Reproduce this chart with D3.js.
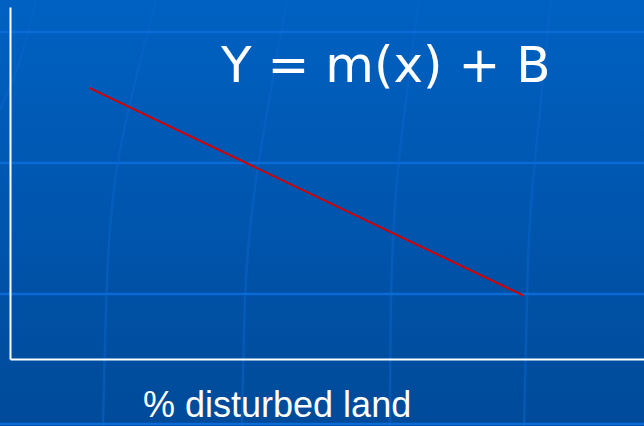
<!DOCTYPE html>
<html>
<head>
<meta charset="utf-8">
<script src="https://cdn.jsdelivr.net/npm/d3@7"></script>
<style>
  html, body { margin: 0; padding: 0; background: #0057b0; }
  svg { display: block; }
</style>
</head>
<body>
<svg id="viz"></svg>
<script>
// values (x = % disturbed land, y = response)
const lineX = [12.5, 81];
const lineY = [77, 18];
const titleText = "Y = m(x) + B";
const xLabel = "% disturbed land";

// slide template decorations (globe-like grid in the background)
const bandRows = [32, 163, 294, 424];
const meridians = [
  [[36, 0], [20, 60], [0, 110]],
  [[156, 0], [122, 140], [108, 260], [103, 426]],
  [[287, 0], [256, 180], [245, 300], [242, 426]],
  [[419, 0], [398, 170], [391, 300], [390, 426]],
  [[551, 0], [535, 160], [528, 260], [524, 426]]
];

const width = 644, height = 426;
const margin = { top: 7, right: 0, bottom: 67, left: 10 };

const svg = d3.select("#viz")
  .attr("width", width)
  .attr("height", height)
  .attr("viewBox", [0, 0, width, height]);

// background gradient
const defs = svg.append("defs");
const grad = defs.append("linearGradient")
  .attr("id", "bg")
  .attr("x1", 0).attr("y1", 0).attr("x2", 0).attr("y2", 1);
grad.append("stop").attr("offset", "0%").attr("stop-color", "#0061c2");
grad.append("stop").attr("offset", "100%").attr("stop-color", "#004a99");

svg.append("rect")
  .attr("width", width)
  .attr("height", height)
  .attr("fill", "url(#bg)");

const deco = svg.append("g");

deco.selectAll(".meridian")
  .data(meridians)
  .join("path")
    .attr("class", "meridian")
    .attr("d", d3.line().curve(d3.curveNatural))
    .attr("fill", "none")
    .attr("stroke", "#0a64c8")
    .attr("stroke-opacity", 0.55)
    .attr("stroke-width", 2.5);

deco.selectAll(".band")
  .data(bandRows)
  .join("line")
    .attr("class", "band")
    .attr("x1", 0)
    .attr("x2", width)
    .attr("y1", d => d)
    .attr("y2", d => d)
    .attr("stroke", "#0a6ad6")
    .attr("stroke-width", 2.5);

// scales
const xScale = d3.scaleLinear()
  .domain([0, 100])
  .range([margin.left, width - margin.right]);

const yScale = d3.scaleLinear()
  .domain([0, 100])
  .range([height - margin.bottom, margin.top]);

// axes (plain white lines, no ticks)
svg.append("g")
  .attr("transform", `translate(${margin.left},0)`)
  .call(d3.axisLeft(yScale).ticks(0).tickSize(0).tickSizeOuter(0))
  .call(g => g.select(".domain").attr("stroke", "#fff").attr("stroke-width", 2));

svg.append("g")
  .attr("transform", `translate(0,${height - margin.bottom})`)
  .call(d3.axisBottom(xScale).ticks(0).tickSize(0).tickSizeOuter(0))
  .call(g => g.select(".domain").attr("stroke", "#fff").attr("stroke-width", 2));

// the regression line
const pts = lineX.map((x, i) => [x, lineY[i]]);
svg.append("path")
  .datum(pts)
  .attr("d", d3.line().x(d => xScale(d[0])).y(d => yScale(d[1])))
  .attr("fill", "none")
  .attr("stroke", "#d40000")
  .attr("stroke-width", 2);

// texts
svg.append("text")
  .attr("x", 221)
  .attr("y", 82)
  .attr("fill", "#fff")
  .attr("font-family", "DejaVu Sans, Verdana, sans-serif")
  .attr("font-size", 50)
  .text(titleText);

svg.append("text")
  .attr("x", 143)
  .attr("y", 417)
  .attr("fill", "#fff")
  .attr("font-family", "Liberation Sans, Arial, sans-serif")
  .attr("font-size", 36)
  .text(xLabel);
</script>
</body>
</html>
